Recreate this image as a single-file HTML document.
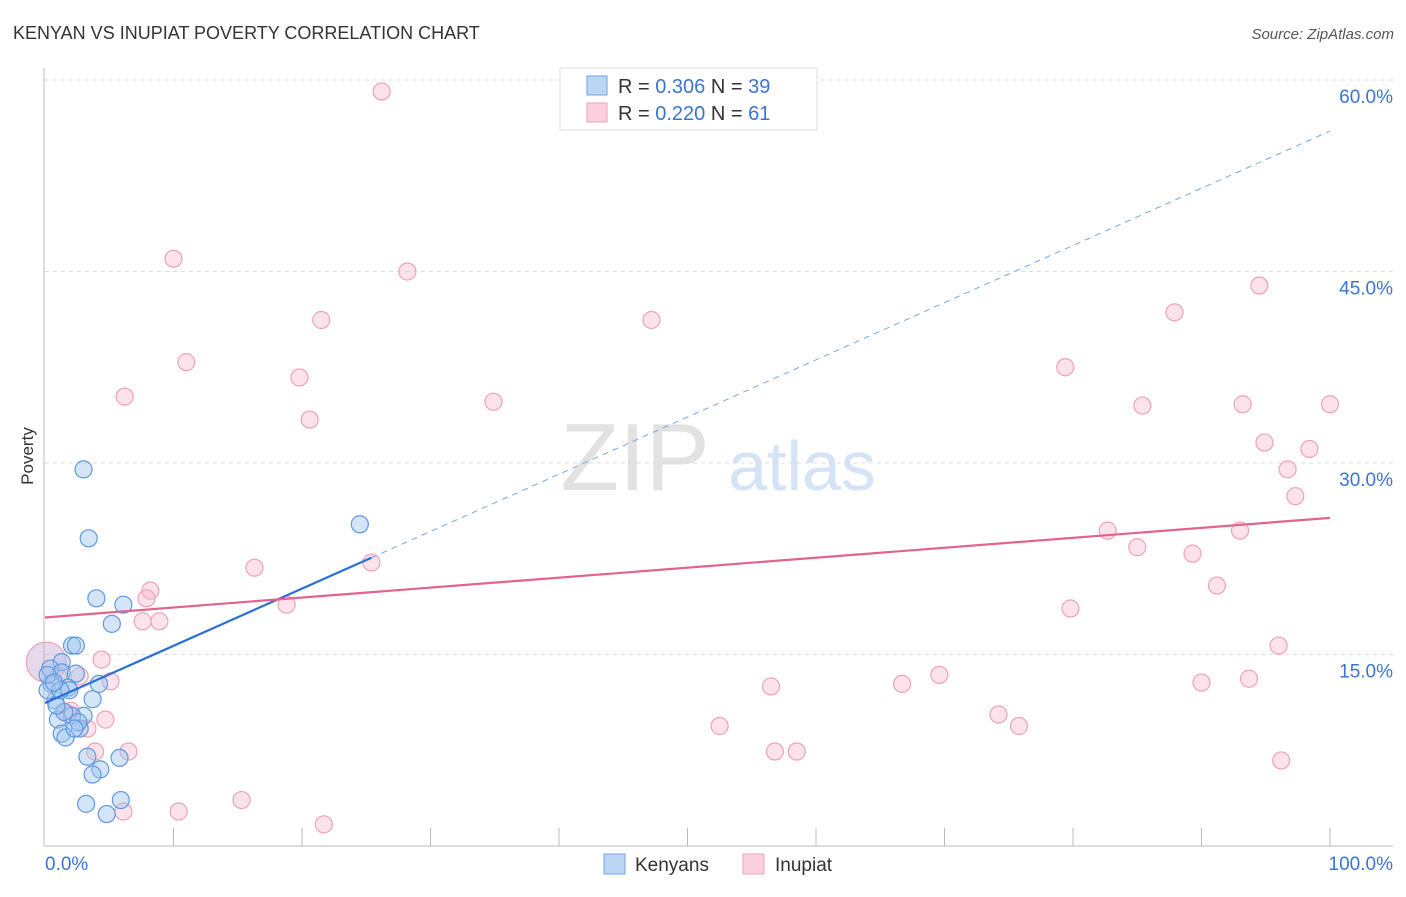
<!DOCTYPE html>
<html><head><meta charset="utf-8"><style>
body{margin:0;background:#fff;font-family:"Liberation Sans",sans-serif}
svg text{font-family:"Liberation Sans",sans-serif}
</style></head><body>
<svg id="chart" width="1406" height="892" xmlns="http://www.w3.org/2000/svg">
<text x="13" y="39" font-size="18" fill="#333">KENYAN VS INUPIAT POVERTY CORRELATION CHART</text>
<text x="1394" y="39" font-size="15" fill="#555" text-anchor="end" font-style="italic">Source: ZipAtlas.com</text>
<g>
<text x="635" y="490" font-size="96" fill="#e2e2e2" text-anchor="middle" font-family="Liberation Serif, serif">ZIP</text>
<text x="802" y="490" font-size="70" fill="#d4e3f5" text-anchor="middle">atlas</text>
</g>
<g id="grid"></g>
<g id="axes"></g>
<g id="marks"></g>
<text transform="translate(33,456) rotate(-90)" font-size="17" fill="#333" text-anchor="middle">Poverty</text>
<g>
<rect x="560" y="68" width="257" height="62" fill="#fff" stroke="#ddd"/>
<rect x="587" y="76" width="20" height="19" fill="#bcd5f5" stroke="#6fa3e3"/>
<rect x="587" y="103" width="20" height="19" fill="#fbcfdc" stroke="#eea1bb"/>
<text x="618" y="93" font-size="20" fill="#333">R = <tspan fill="#3a75d0">0.306</tspan>   N = <tspan fill="#3a75d0">39</tspan></text>
<text x="618" y="120" font-size="20" fill="#333">R = <tspan fill="#3a75d0">0.220</tspan>   N =  <tspan fill="#3a75d0">61</tspan></text>
</g>
<g>
<rect x="604" y="854" width="21" height="20" fill="#bcd5f5" stroke="#6fa3e3"/>
<text x="635" y="871" font-size="19" fill="#333">Kenyans</text>
<rect x="743" y="854" width="21" height="20" fill="#fbcfdc" stroke="#eea1bb"/>
<text x="775" y="871" font-size="19" fill="#333">Inupiat</text>
</g>
</svg>
<script>
const yTicks=[15,30,45,60];
const yTickLabels=["15.0%","30.0%","45.0%","60.0%"];
const xTickLabels=["0.0%","100.0%"];
const kenX=[3.0,3.4,4.0,6.1,5.2,2.1,2.4,1.3,0.4,1.3,2.4,4.2,0.5,1.8,0.8,3.7,3.0,2.1,1.0,1.3,1.6,2.7,2.6,3.3,5.8,4.3,3.7,3.2,5.9,4.8,24.5,0.2,1.5,2.3,0.9,0.2,1.9,1.2,0.7];
const kenY=[29.5,24.1,19.4,18.9,17.4,15.7,15.7,14.4,13.9,13.6,13.5,12.7,12.7,12.4,11.4,11.5,10.2,10.2,9.9,8.8,8.5,9.2,9.7,7.0,6.9,6.0,5.6,3.3,3.6,2.5,25.2,12.2,10.5,9.2,11.0,13.4,12.2,12.2,12.8];
const inuX=[26.2,10.0,28.2,21.5,47.2,11.0,19.8,6.2,20.6,34.9,94.5,87.9,79.4,85.4,93.2,100,94.9,98.4,96.7,97.3,82.7,85.0,89.3,93.0,91.2,79.8,96.0,90.0,93.7,96.2,69.6,66.7,56.5,74.2,75.8,52.5,56.8,58.5,25.4,16.3,18.8,8.2,7.9,7.6,8.9,4.4,2.7,5.1,4.7,2.0,3.3,3.9,6.5,15.3,10.4,6.1,21.7,0.1,1.8,1.0];
const inuY=[59.1,46.0,45.0,41.2,41.2,37.9,36.7,35.2,33.4,34.8,43.9,41.8,37.5,34.5,34.6,34.6,31.6,31.1,29.5,27.4,24.7,23.4,22.9,24.7,20.4,18.6,15.7,12.8,13.1,6.7,13.4,12.7,12.5,10.3,9.4,9.4,7.4,7.4,22.2,21.8,18.9,20.0,19.4,17.6,17.6,14.6,13.3,12.9,9.9,10.6,9.2,7.4,7.4,3.6,2.7,2.7,1.7,14.4,10.3,13.3];
const kenFit=[11.2,56.0];
const kenSolidEnd=25.4;
const inuFit=[17.9,25.7];
const X=v=>45+v*12.85, Y=v=>846-v*12.767;
const NS="http://www.w3.org/2000/svg";
function mk(t,a,p){const e=document.createElementNS(NS,t);for(const k in a)e.setAttribute(k,a[k]);p.appendChild(e);return e;}
const grid=document.getElementById('grid'),axes=document.getElementById('axes'),marks=document.getElementById('marks');
yTicks.forEach((t,i)=>{
 const l=mk('line',{x1:45,x2:1393,y1:Y(t),y2:Y(t),stroke:'#ddd','stroke-dasharray':'4,4'},grid);
 
 
 const tx=mk('text',{x:1393,y:Y(t)+23,'font-size':19,fill:'#3a75d0','text-anchor':'end'},axes);
 tx.textContent=yTickLabels[i];
 
 
});
const ax=mk('line',{x1:44,x2:44,y1:68,y2:846,stroke:'#bbb'},axes);


const bx=mk('line',{x1:44,x2:1393,y1:846,y2:846,stroke:'#bbb'},axes);


for(let i=1;i<=10;i++){const t=mk('line',{x1:X(i*10),x2:X(i*10),y1:828,y2:846,stroke:'#bbb'},axes);
 
 }
[[0,'start'],[100,'end']].forEach((d,i)=>{const t=mk('text',{x:i?1393:45,y:870,'font-size':19,fill:'#3a75d0','text-anchor':d[1]},axes);t.textContent=xTickLabels[i];
 
 });
inuX.forEach((x,i)=>{const c=mk('circle',{cx:X(x),cy:Y(inuY[i]),r:i==57?20:8.5,fill:i==57?'rgba(200,170,210,0.45)':'rgba(248,185,205,0.4)',stroke:'#eea1bb','stroke-width':1.2},marks);
 
 });
kenX.forEach((x,i)=>{const c=mk('circle',{cx:X(x),cy:Y(kenY[i]),r:8.5,fill:'rgba(160,198,240,0.45)',stroke:'#5f98df','stroke-width':1.2},marks);
 
 });
const f=x=>kenFit[0]+(kenFit[1]-kenFit[0])*x/100;
const l1=mk('line',{x1:X(0),y1:Y(kenFit[0]),x2:X(kenSolidEnd),y2:Y(f(kenSolidEnd)),stroke:'#2a6fd6','stroke-width':2.2},marks);


const l2=mk('line',{x1:X(kenSolidEnd),y1:Y(f(kenSolidEnd)),x2:X(100),y2:Y(kenFit[1]),stroke:'#7aa6e3','stroke-width':1,'stroke-dasharray':'6,5'},marks);


const l3=mk('line',{x1:X(0),y1:Y(inuFit[0]),x2:X(100),y2:Y(inuFit[1]),stroke:'#e2638f','stroke-width':2.2},marks);


</script>
</body></html>
